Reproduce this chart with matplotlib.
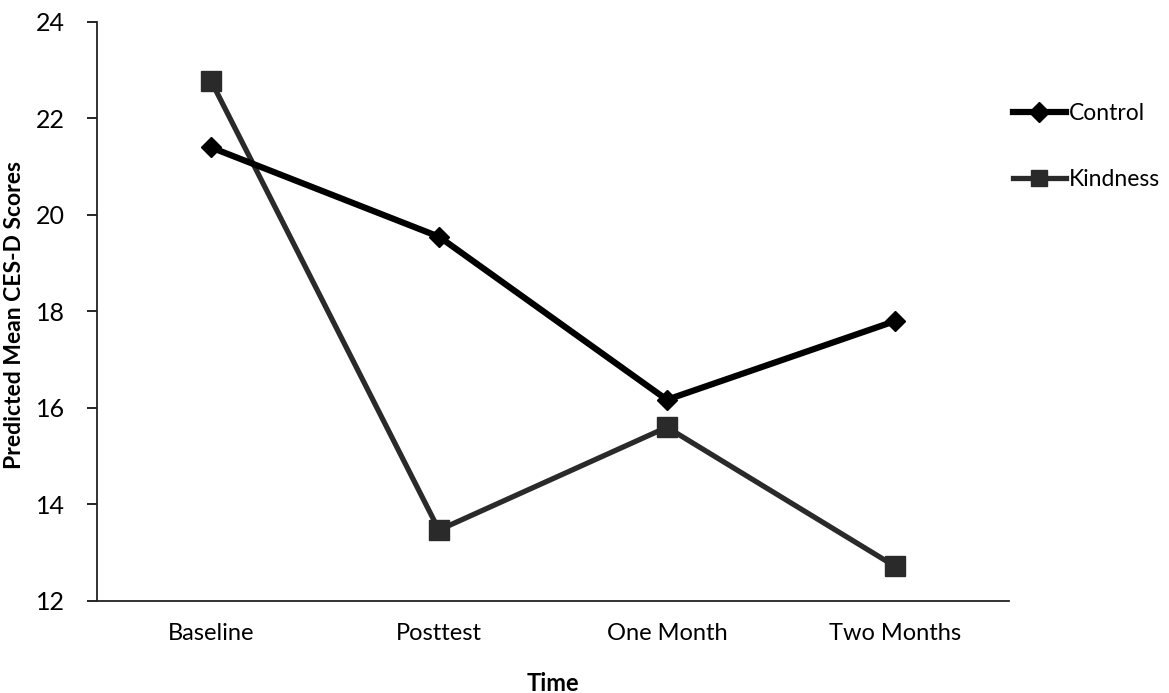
import matplotlib
matplotlib.use("Agg")
import matplotlib.pyplot as plt
from matplotlib.lines import Line2D

plt.rcParams['font.family'] = ['Lato', 'DejaVu Sans']

time_points = ["Baseline", "Posttest", "One Month", "Two Months"]
control = [21.4, 19.55, 16.17, 17.8]
kindness = [22.78, 13.47, 15.6, 12.72]
y_ticks = [12, 14, 16, 18, 20, 22, 24]

fig = plt.figure(figsize=(11.69, 6.93), dpi=100)
ax = fig.add_axes([0.083, 0.1328, 0.780, 0.8355])

x = list(range(len(time_points)))
ax.plot(x, control, color="black", lw=4.5, marker="D", ms=10, zorder=3)
ax.plot(x, kindness, color="#2a2a2a", lw=3.8, marker="s", ms=14, zorder=2)

ax.set_xlim(-0.5, 3.5)
ax.set_ylim(12, 24)
ax.set_yticks(y_ticks)
ax.set_xticks(x)
ax.set_xticklabels(time_points)
ax.tick_params(axis="x", length=0, pad=16, labelsize=17)
ax.tick_params(axis="y", length=7, width=1.2, direction="out", pad=16, labelsize=18)

for side in ("top", "right"):
    ax.spines[side].set_visible(False)
for side in ("left", "bottom"):
    ax.spines[side].set_linewidth(1.3)
    ax.spines[side].set_color("#222222")

ax.set_xlabel("Time", fontsize=17, fontweight="bold", labelpad=20)
fig.text(15 / 1169, 1 - 315 / 693, "Predicted Mean CES-D Scores", rotation=90,
         ha="center", va="center", fontsize=16.5, fontweight="bold")

handles = [
    Line2D([], [], color="black", lw=4.5, marker="D", ms=10),
    Line2D([], [], color="#2a2a2a", lw=3.8, marker="s", ms=12),
]
fig.legend(handles, ["Control", "Kindness"], loc="upper left",
           bbox_to_anchor=(0.849, 0.881), frameon=False, fontsize=16.5,
           handlelength=2.3, handletextpad=0.15, labelspacing=1.95)

fig.savefig("out.png", dpi=100, facecolor="white")
